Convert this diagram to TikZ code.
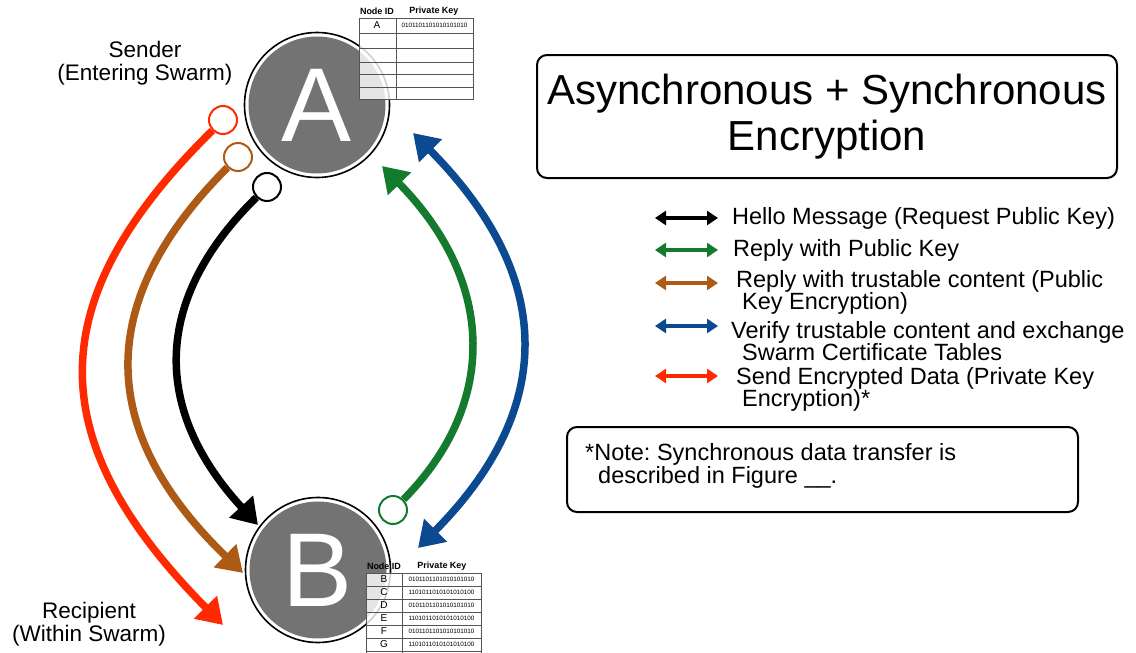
\documentclass[tikz,border=0pt]{standalone}
\usepackage{fontspec}
\setmainfont{Liberation Sans}
\usetikzlibrary{arrows.meta}
\definecolor{cred}{HTML}{FF2A00}
\definecolor{cbrown}{HTML}{AD5A17}
\definecolor{cgreen}{HTML}{137A2E}
\definecolor{cblue}{HTML}{0B4A90}
\definecolor{cgray}{HTML}{737373}
\definecolor{cline}{HTML}{555555}
\begin{document}
\frenchspacing
\begin{tikzpicture}[x=1pt,y=-1pt,
  flow/.style={line width=7.5pt, -{Triangle[length=25pt,width=31pt]}},
  ring/.style={circle, draw, line width=2pt, fill=white, minimum size=28pt, inner sep=0pt},
  leg/.style={line width=4.5pt, {Triangle[length=11pt,width=14pt]}-{Triangle[length=11pt,width=14pt]}},
  legtxt/.style={anchor=west, font=\fontsize{23.5}{22}\selectfont, align=left, inner sep=0pt},
  lbl/.style={font=\fontsize{22.5}{23}\selectfont, align=center},
  outerring/.style={circle, draw=black, line width=1.6pt, fill=white, minimum size=145pt, inner sep=0pt},
  big/.style={circle, fill=cgray, minimum size=137pt, inner sep=0pt, text=white, font=\fontsize{105}{105}\selectfont},
  tbl/.style={draw=cline, line width=0.8pt, fill=white, fill opacity=0.82},
  thead/.style={font=\fontsize{9}{9}\bfseries\selectfont, inner sep=0pt},
  tid/.style={font=\fontsize{10}{10}\selectfont, inner sep=0pt},
  tkey/.style={font=\fontsize{6.3}{6}\selectfont, inner sep=0pt},
  box/.style={draw, line width=2pt, rounded corners=10pt}
]
\useasboundingbox (0,0) rectangle (1136,653);

% big nodes
\node[outerring] (Aring) at (317,105) {};
\node[big] (A) at (317,105) {A};
\node[outerring] (Bring) at (318,570) {};
\node[big] (B) at (318,570) {B};

% table A
\draw[tbl] (359,18) rectangle (473,99);
\foreach \y in {33,48,62,74,87} \draw[cline, line width=0.8pt] (359,\y) -- (473,\y);
\draw[cline, line width=0.8pt] (396,18) -- (396,99);
\node[thead] (hA1) at (377,11) {Node ID};
\node[thead] (hA2) at (434,11) {Private Key};
\node[tid] (rA1) at (377,25.5) {A};
\node[tkey] (kA1) at (434.5,25.5) {0101101101010101010};

% table B
\draw[tbl] (366,573) rectangle (481,653);
\foreach \y in {586,599,612,625,638,651} \draw[cline, line width=0.8pt] (366,\y) -- (481,\y);
\draw[cline, line width=0.8pt] (402,573) -- (402,653);
\node[thead] (hB1) at (384,566) {Node ID};
\node[thead] (hB2) at (442,566) {Private Key};
\foreach \l/\k [count=\i] in {B/0101101101010101010,C/1101011010101010100,D/0101101101010101010,E/1101011010101010100,F/0101101101010101010,G/1101011010101010100}
  {\node[tid] (rB\i) at (384,566.5+13*\i) {\l};
   \node[tkey] (kB\i) at (441.5,566.5+13*\i) {\k};}

% labels
\node[lbl] (sender) at (145,63) {Sender\\(Entering Swarm)};
\node[lbl] (recip) at (89,624) {Recipient\\(Within Swarm)};

% connector start rings and end points
\node[ring, draw=cred] (redS) at (223,120) {};
\node[ring, draw=cbrown] (brownS) at (238,157) {};
\node[ring, draw=black] (blackS) at (267,187) {};
\node[ring, draw=cgreen] (greenS) at (393,510) {};
\coordinate (redE) at (223,625);
\coordinate (brownE) at (243,573);
\coordinate (blackE) at (258,525);
\coordinate (greenE) at (382,166);
\coordinate (blueT) at (413,133);
\coordinate (blueB) at (418,548);

\draw[flow, cred] (redS) .. controls (40,300) and (40,440) .. (redE);
\draw[flow, cbrown] (brownS) .. controls (95,300) and (95,430) .. (brownE);
\draw[flow, black] (blackS) .. controls (152,300) and (152,410) .. (blackE);
\draw[flow, cgreen] (greenS) .. controls (497,405) and (497,283) .. (greenE);
\draw[line width=7.5pt, cblue, {Triangle[length=25pt,width=31pt]}-{Triangle[length=25pt,width=31pt]}] (blueT) .. controls (556,277) and (556,409) .. (blueB);

% title
\node[box, minimum width=580pt, minimum height=123pt, align=center,
      font=\fontsize{42}{46}\selectfont] (title) at (827,116.5) {Asynchronous + Synchronous\\Encryption};

% legend
\coordinate (l1a) at (655,218); \coordinate (l1b) at (718,218);
\coordinate (l2a) at (655,250); \coordinate (l2b) at (718,250);
\coordinate (l3a) at (655,283); \coordinate (l3b) at (718,283);
\coordinate (l4a) at (655,326); \coordinate (l4b) at (718,326);
\coordinate (l5a) at (655,376); \coordinate (l5b) at (718,376);
\draw[leg, black] (l1a) -- (l1b);
\draw[leg, cgreen] (l2a) -- (l2b);
\draw[leg, cbrown] (l3a) -- (l3b);
\draw[leg, cblue] (l4a) -- (l4b);
\draw[leg, cred] (l5a) -- (l5b);
\node[legtxt] (t1) at (732,218) {Hello Message (Request Public Key)};
\node[legtxt] (t2) at (733,250) {Reply with Public Key};
\node[legtxt] (t3) at (736,292) {Reply with trustable content (Public\\\hspace{6pt}Key Encryption)};
\node[legtxt] (t4) at (731,341.5) {Verify trustable content and exchange\\\hspace{11pt}Swarm Certificate Tables};
\node[legtxt] (t5) at (736,389.5) {Send Encrypted Data (Private Key\\\hspace{6pt}Encryption)*};

% note
\node[box, minimum width=511pt, minimum height=85pt] (notebox) at (822.5,469.5) {};
\node[legtxt, font=\fontsize{23.5}{23}\selectfont] (note) at (585,466) {*Note: Synchronous data transfer is\\\hspace{13pt}described in Figure \_\_.};
\end{tikzpicture}
\end{document}
